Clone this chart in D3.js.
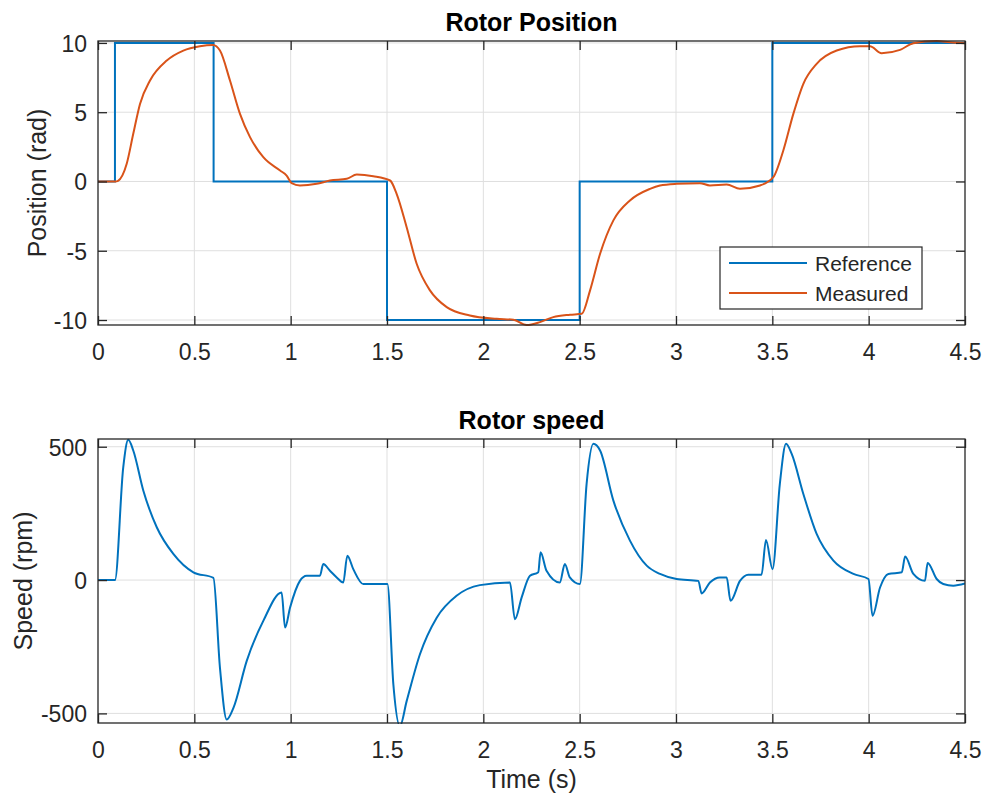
<!DOCTYPE html>
<html><head><meta charset="utf-8">
<script src="https://cdn.jsdelivr.net/npm/d3@7"></script>
<style>
body{margin:0;background:#fff}
text{font-family:"Liberation Sans",Arial,Helvetica,sans-serif}
</style>
</head><body>
<svg id="c" width="988" height="804"></svg>
<script>
// ---------- data ----------
const timeTicks = [0, 0.5, 1, 1.5, 2, 2.5, 3, 3.5, 4, 4.5];
const posTicks = [-10, -5, 0, 5, 10];
const speedTicks = [-500, 0, 500];
const seriesNames = ["Reference", "Measured"];

// reference position (step, value holds until next time)
const refPosition = [[0,0],[0.088,10],[0.6,0],[1.5,-10],[2.5,0],[3.5,10],[4.5,10]];

// measured position [time s, rad]
const measPosition = [
 [0,0],[0.09,0],[0.104,0.05],[0.149,1.28],[0.183,3.44],[0.218,5.6],[0.27,7.29],[0.357,8.73],
 [0.443,9.45],[0.529,9.76],[0.597,9.85],[0.633,9.45],[0.685,7.29],[0.737,4.88],[0.789,3.2],
 [0.858,1.75],[0.945,0.79],[0.979,0.43],[1.005,-0.12],[1.048,-0.29],[1.135,-0.17],[1.204,0.07],
 [1.291,0.19],[1.343,0.5],[1.429,0.38],[1.516,0.07],[1.55,-0.89],[1.602,-3.3],[1.654,-5.94],
 [1.723,-7.86],[1.81,-9.07],[1.93,-9.67],[2.069,-9.91],[2.156,-9.98],[2.225,-10.36],[2.294,-10.15],
 [2.363,-9.79],[2.45,-9.62],[2.511,-9.55],[2.554,-7.86],[2.606,-5.22],[2.675,-2.81],[2.761,-1.37],
 [2.865,-0.53],[2.917,-0.29],[3.003,-0.17],[3.124,-0.12],[3.176,-0.29],[3.263,-0.22],[3.332,-0.53],
 [3.436,-0.29],[3.505,0.31],[3.557,2.24],[3.609,4.88],[3.661,7.05],[3.73,8.49],[3.834,9.45],
 [3.955,9.76],[4.007,9.76],[4.067,9.26],[4.163,9.5],[4.232,9.98],[4.353,10.14],[4.422,10.05],[4.5,9.98]
];

// rotor speed [time s, rpm]
const rotorSpeed = [
 [0,0],[0.088,0],[0.131,423],[0.157,526],[0.183,486],[0.235,336],[0.305,198],[0.391,98],
 [0.495,29],[0.599,8],[0.633,-329],[0.668,-523],[0.703,-479],[0.772,-303],[0.858,-153],
 [0.953,-47],[0.971,-178],[0.997,-103],[1.048,-3],[1.083,16],[1.152,16],[1.169,60],[1.204,35],
 [1.239,10],[1.273,-9],[1.294,91],[1.325,41],[1.377,-15],[1.429,-15],[1.502,-15],[1.533,-391],
 [1.567,-548],[1.602,-454],[1.671,-278],[1.758,-141],[1.861,-59],[1.982,-19],[2.138,-9],
 [2.164,-147],[2.199,-65],[2.242,16],[2.285,29],[2.297,104],[2.328,35],[2.397,-9],[2.423,60],
 [2.449,10],[2.501,-15],[2.536,361],[2.571,511],[2.606,486],[2.675,298],[2.761,148],[2.848,54],
 [2.917,23],[3.003,4],[3.116,-3],[3.133,-50],[3.176,-9],[3.228,10],[3.263,10],[3.283,-78],
 [3.332,-3],[3.375,20],[3.444,20],[3.467,150],[3.501,41],[3.539,361],[3.571,511],[3.6,474],
 [3.661,323],[3.73,173],[3.817,73],[3.921,23],[3.999,4],[4.02,-134],[4.059,-28],[4.102,23],
 [4.172,29],[4.189,88],[4.232,23],[4.292,-3],[4.306,64],[4.353,4],[4.387,-15],[4.439,-21],[4.5,-13]
];

// ---------- layout ----------
const svg = d3.select("#c");
const L = 98, R = 965;
const top1 = 41, bot1 = 325, top2 = 439, bot2 = 723;
const blue = "#0072BD", orange = "#D95319", axc = "#262626", gridc = "#dfdfdf";

const x = d3.scaleLinear().domain([0, 4.5]).range([L, R]);
const y1 = d3.scaleLinear().domain([-10.36, 10.14]).range([bot1, top1]);
const y2 = d3.scaleLinear().domain([-536, 529]).range([bot2, top2]);
const fmt = d => String(d);

function panel(id, y, yTicks, top, bot, title, ylabel, labelX, xlabel) {
  const g = svg.append("g");
  // grid
  g.append("g").selectAll("line").data(timeTicks.slice(1, -1)).join("line")
    .attr("x1", d => x(d)).attr("x2", d => x(d)).attr("y1", top).attr("y2", bot)
    .attr("stroke", gridc).attr("stroke-width", 1);
  g.append("g").selectAll("line").data(yTicks).join("line")
    .attr("x1", L).attr("x2", R).attr("y1", d => y(d)).attr("y2", d => y(d))
    .attr("stroke", gridc).attr("stroke-width", 1);

  // clip
  svg.append("clipPath").attr("id", id).append("rect")
    .attr("x", L).attr("y", top - 1).attr("width", R - L).attr("height", bot - top + 2);
  const plot = g.append("g").attr("clip-path", `url(#${id})`);

  // axes
  const ax = g.append("g").attr("transform", `translate(0,${bot})`)
    .call(d3.axisBottom(x).tickValues(timeTicks).tickSizeInner(-9).tickSizeOuter(0).tickPadding(19)
      .tickFormat(fmt));
  const axt = g.append("g").attr("transform", `translate(0,${top})`)
    .call(d3.axisTop(x).tickValues(timeTicks).tickSizeInner(-9).tickSizeOuter(0).tickFormat(""));
  const ay = g.append("g").attr("transform", `translate(${L},0)`)
    .call(d3.axisLeft(y).tickValues(yTicks).tickSizeInner(-9).tickSizeOuter(0).tickPadding(11)
      .tickFormat(fmt));
  const ayr = g.append("g").attr("transform", `translate(${R},0)`)
    .call(d3.axisRight(y).tickValues(yTicks).tickSizeInner(-9).tickSizeOuter(0).tickFormat(""));
  [ax, axt, ay, ayr].forEach(a => {
    a.select(".domain").remove();
    a.selectAll("line").attr("stroke", axc).attr("stroke-width", 1.3);
    a.selectAll("text").attr("fill", axc).style("font-size", "23px")
      .style("font-family", '"Liberation Sans", Arial, sans-serif');
  });
  ay.selectAll("text").attr("dy", "0.36em");

  g.append("rect").attr("x", L).attr("y", top).attr("width", R - L).attr("height", bot - top)
    .attr("fill", "none").attr("stroke", axc).attr("stroke-width", 1.3);

  g.append("text").attr("x", (L + R) / 2).attr("y", top - 10).attr("text-anchor", "middle")
    .style("font-size", "25px").style("font-weight", "bold").attr("fill", "#000").text(title);

  g.append("text").attr("transform", `translate(${labelX},${(top + bot) / 2}) rotate(-90)`)
    .attr("text-anchor", "middle").style("font-size", "25px").attr("fill", axc).text(ylabel);

  if (xlabel) {
    g.append("text").attr("x", (L + R) / 2).attr("y", bot + 65).attr("text-anchor", "middle")
      .style("font-size", "25px").attr("fill", axc).text(xlabel);
  }
  return plot;
}

const p1 = panel("clip1", y1, posTicks, top1, bot1, "Rotor Position", "Position (rad)", 46, null);
const p2 = panel("clip2", y2, speedTicks, top2, bot2, "Rotor speed", "Speed (rpm)", 32, "Time (s)");

const lineRef = d3.line().x(d => x(d[0])).y(d => y1(d[1])).curve(d3.curveStepAfter);
const lineMeas = d3.line().x(d => x(d[0])).y(d => y1(d[1])).curve(d3.curveMonotoneX);
const lineSpeed = d3.line().x(d => x(d[0])).y(d => y2(d[1])).curve(d3.curveMonotoneX);

p1.append("path").datum(refPosition).attr("d", lineRef)
  .attr("fill", "none").attr("stroke", blue).attr("stroke-width", 2);
p1.append("path").datum(measPosition).attr("d", lineMeas)
  .attr("fill", "none").attr("stroke", orange).attr("stroke-width", 2);
p2.append("path").datum(rotorSpeed).attr("d", lineSpeed)
  .attr("fill", "none").attr("stroke", blue).attr("stroke-width", 2);

// legend
const lg = svg.append("g").attr("transform", "translate(720,247)");
lg.append("rect").attr("width", 202).attr("height", 62).attr("fill", "#fff")
  .attr("stroke", axc).attr("stroke-width", 1.2);
const colors = [blue, orange];
seriesNames.forEach((n, i) => {
  const yy = 16 + i * 30;
  lg.append("line").attr("x1", 9).attr("x2", 87).attr("y1", yy).attr("y2", yy)
    .attr("stroke", colors[i]).attr("stroke-width", 2);
  lg.append("text").attr("x", 95).attr("y", yy).attr("dy", "0.36em")
    .style("font-size", "21px").attr("fill", axc).text(n);
});
</script>
</body></html>
